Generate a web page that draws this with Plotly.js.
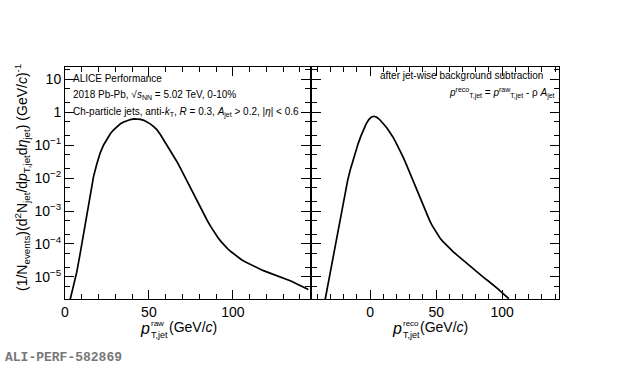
<!DOCTYPE html>
<html>
<head>
<meta charset="utf-8">
<script src="https://cdn.plot.ly/plotly-3.0.1.min.js"></script>
<style>html,body{margin:0;padding:0;background:#fff;}#chart{width:620px;height:367px;}</style>
</head>
<body>
<div id="chart"></div>
<script>
// Raw jet pT spectrum: bin centres (GeV/c) and values
const rawBinCenter = [3,5,7,9,11,13,15,17,19,21,23,25,27,29,31,33,35,37,39,41,43,45,47,49,51,53,55,57,59,61,63,65,67,69,71,73,75,77,79,81,83,85,87,89,91,93,95,97,99,101,103,105,107,109,111,113,115,117,119,121,123,125,127,129,131,133,135,137,139,141,143,145];
const rawValues = [2e-6,5.6e-6,1.4e-5,5e-5,1.8e-4,7e-4,2.8e-3,0.011,0.027,0.058,0.1,0.15,0.22,0.29,0.36,0.44,0.5,0.55,0.59,0.62,0.62,0.6,0.56,0.5,0.43,0.355,0.282,0.2,0.138,0.0955,0.066,0.0447,0.0295,0.019,0.012,7.4e-3,4.6e-3,2.9e-3,1.8e-3,1.15e-3,7.4e-4,4.9e-4,3.3e-4,2.25e-4,1.6e-4,1.18e-4,9.0e-5,7.1e-5,5.8e-5,4.8e-5,4.0e-5,3.4e-5,2.95e-5,2.6e-5,2.35e-5,2.1e-5,1.86e-5,1.66e-5,1.51e-5,1.38e-5,1.26e-5,1.17e-5,1.07e-5,1.0e-5,9.1e-6,8.3e-6,7.4e-6,6.6e-6,5.9e-6,5.2e-6,4.7e-6,4.2e-6];

// Background-subtracted jet pT spectrum: bin centres and values
const recoBinCenter = [-35,-33,-31,-29,-27,-25,-23,-21,-19,-17,-15,-13,-11,-9,-7,-5,-3,-1,1,3,5,7,9,11,13,15,17,19,21,23,25,27,29,31,33,35,37,39,41,43,45,47,49,51,53,55,57,59,61,63,65,67,69,71,73,75,77,79,81,83,85,87,89,91,93,95,97,99,101,103,105];
const recoValues = [1.3e-6,3.5e-6,8.9e-6,2.3e-5,7.1e-5,2.1e-4,5.6e-4,1.5e-3,3.8e-3,8.5e-3,0.0178,0.0347,0.0646,0.112,0.186,0.295,0.437,0.589,0.708,0.741,0.692,0.603,0.501,0.398,0.316,0.245,0.182,0.132,0.0933,0.0631,0.0427,0.0282,0.0182,0.0117,7.4e-3,4.7e-3,2.95e-3,1.86e-3,1.17e-3,7.8e-4,5.2e-4,3.6e-4,2.6e-4,1.95e-4,1.5e-4,1.2e-4,9.8e-5,8.1e-5,6.8e-5,5.75e-5,4.9e-5,4.2e-5,3.55e-5,3.0e-5,2.6e-5,2.2e-5,1.86e-5,1.58e-5,1.35e-5,1.17e-5,1.02e-5,8.9e-6,7.8e-6,6.8e-6,5.9e-6,5.0e-6,4.3e-6,3.6e-6,3.1e-6,2.6e-6,2.2e-6];

const yTickVals = [1e-5,1e-4,1e-3,1e-2,1e-1,1,10];
const yTickText = ['10<sup>−5</sup>','10<sup>−4</sup>','10<sup>−3</sup>','10<sup>−2</sup>','10<sup>−1</sup>','1','10'];
const xTickVals = [0,50,100];

const FONT = 'Liberation Sans, Arial, sans-serif';
const W = 620, H = 367;
const px = v => v / W, py = v => 1 - v / H;

const xBase = {
  ticks: 'inside', ticklen: 9, tickwidth: 1, tickcolor: '#000',
  showline: true, linecolor: '#000', linewidth: 1, mirror: 'allticks',
  showgrid: false, zeroline: false,
  tickvals: xTickVals, ticktext: xTickVals.map(String),
  tickfont: {family: FONT, size: 14, color: '#000'},
  minor: {ticks: 'inside', ticklen: 5, tickcolor: '#000', dtick: 10, showgrid: false}
};
const yBase = {
  type: 'log', range: [-5.667, 1.364],
  ticks: 'inside', ticklen: 9, tickwidth: 1, tickcolor: '#000',
  showline: true, linecolor: '#000', linewidth: 1, mirror: 'allticks',
  showgrid: false, zeroline: false,
  tickvals: yTickVals, ticktext: yTickText,
  tickfont: {family: FONT, size: 14, color: '#000'},
  minor: {ticks: 'inside', ticklen: 5, tickcolor: '#000', showgrid: false},
  domain: [py(299), py(67)]
};

const traces = [
  {x: rawBinCenter, y: rawValues, type: 'scatter', mode: 'lines', line: {shape: 'linear', color: '#000', width: 1.7}, xaxis: 'x', yaxis: 'y', hoverinfo: 'skip'},
  {x: recoBinCenter, y: recoValues, type: 'scatter', mode: 'lines', line: {shape: 'linear', color: '#000', width: 1.7}, xaxis: 'x2', yaxis: 'y2', hoverinfo: 'skip'}
];

function ann(x, y, text, opts) {
  return Object.assign({xref: 'paper', yref: 'paper', x: px(x), y: py(y), text: text, showarrow: false,
    font: {family: FONT, size: 10, color: '#000'}, xanchor: 'left', yanchor: 'middle', borderpad: 0}, opts || {});
}

const annotations = [
  ann(72, 78, 'ALICE Performance'),
  ann(72, 95, '2018 Pb-Pb, √<i>s</i><sub>NN</sub> = 5.02 TeV, 0-10%'),
  ann(72, 112, 'Ch-particle jets, anti-<i>k</i><sub>T</sub>, <i>R</i> = 0.3, <i>A</i><sub>jet</sub> &gt; 0.2, |<i>η</i>| &lt; 0.6'),
  ann(544, 76, 'after jet-wise background subtraction', {xanchor: 'right'}),
  ann(556, 93, '<i>p</i><sup>reco</sup><sub>T,jet</sub> = <i>p</i><sup>raw</sup><sub>T,jet</sub> - ρ <i>A</i><sub>jet</sub>', {xanchor: 'right'}),
  // y-axis title
  ann(22, 178, '(1/N<sub>events</sub>)(d<sup>2</sup>N<sub>jet</sub>/d<i>p</i><sub>T,jet</sub>d<i>η</i><sub>jet</sub>) (GeV/<i>c</i>)<sup>-1</sup>',
      {textangle: -90, xanchor: 'center', yanchor: 'middle', font: {family: FONT, size: 14, color: '#000'}}),
  // x-axis titles (stacked sup/sub)
  ann(151, 328, '<i>p</i>', {xanchor: 'right', font: {family: FONT, size: 16, color: '#000'}}),
  ann(150, 323, 'raw', {font: {family: FONT, size: 8, color: '#000'}}),
  ann(150, 335, 'T,jet', {font: {family: FONT, size: 9, color: '#000'}}),
  ann(168, 327, '(GeV/<i>c</i>)', {font: {family: FONT, size: 14, color: '#000'}}),
  ann(403, 328, '<i>p</i>', {xanchor: 'right', font: {family: FONT, size: 16, color: '#000'}}),
  ann(402, 323, 'reco', {font: {family: FONT, size: 8, color: '#000'}}),
  ann(402, 335, 'T,jet', {font: {family: FONT, size: 9, color: '#000'}}),
  ann(419, 327, '(GeV/<i>c</i>)', {font: {family: FONT, size: 14, color: '#000'}}),
  ann(4, 357, '<b>ALI-PERF-582869</b>', {font: {family: 'Liberation Mono, Courier New, monospace', size: 13, color: '#777'}})
];

const layout = {
  width: W, height: H,
  margin: {l: 0, r: 0, t: 0, b: 0},
  paper_bgcolor: '#fff', plot_bgcolor: '#fff',
  showlegend: false,
  xaxis: Object.assign({}, xBase, {domain: [px(65), px(310)], range: [0, 146], anchor: 'y'}),
  yaxis: Object.assign({}, yBase, {anchor: 'x'}),
  xaxis2: Object.assign({}, xBase, {domain: [px(312), px(559)], range: [-44, 143], anchor: 'y2'}),
  yaxis2: Object.assign({}, yBase, {anchor: 'x2', showticklabels: false}),
  annotations: annotations
};

Plotly.newPlot('chart', traces, layout, {staticPlot: true, displayModeBar: false});
</script>
</body>
</html>
